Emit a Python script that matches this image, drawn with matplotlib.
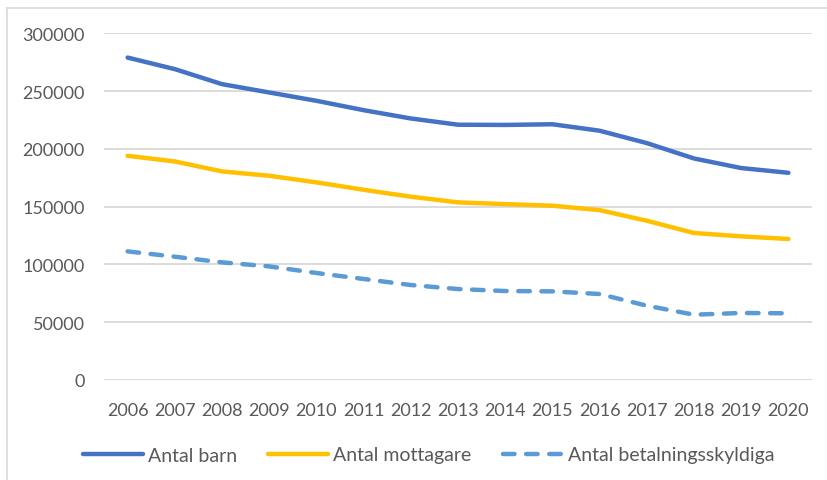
import matplotlib
matplotlib.use("Agg")
import matplotlib.pyplot as plt
from matplotlib.lines import Line2D

years = [2006, 2007, 2008, 2009, 2010, 2011, 2012, 2013, 2014, 2015, 2016, 2017, 2018, 2019, 2020]
antal_barn = [279000, 269000, 256000, 248800, 241600, 233500, 226300, 220900, 220700, 221300, 215700, 205000, 191700, 183400, 179300]
antal_mottagare = [194000, 189100, 180500, 176700, 171000, 164600, 158600, 153700, 152200, 150800, 147000, 137800, 127200, 124300, 122000]
antal_betalningsskyldiga = [111300, 106700, 101800, 98300, 92600, 87400, 82200, 78700, 77000, 76700, 74400, 64300, 56500, 58000, 57700]

labels = ["Antal barn", "Antal mottagare", "Antal betalningsskyldiga"]
colors = ["#4472C4", "#FFC000", "#5B9BD5"]
text_color = "#595959"

plt.rcParams['font.family'] = ['Lato', 'DejaVu Sans']

fig = plt.figure(figsize=(8.27, 4.81), dpi=100)
ax = fig.add_axes([104 / 827, 1 - 381 / 481, (812 - 104) / 827, (381 - 34.3) / 481])

lw = 3.2
ax.plot(years, antal_barn, color=colors[0], lw=lw, solid_capstyle='round', solid_joinstyle='round')
ax.plot(years, antal_mottagare, color=colors[1], lw=lw, solid_capstyle='round', solid_joinstyle='round')
ax.plot(years, antal_betalningsskyldiga, color=colors[2], lw=lw, linestyle=(0, (2.6, 2.6)),
        dash_capstyle='round', dash_joinstyle='round')

ax.set_xlim(2005.5, 2020.5)
ax.set_ylim(0, 300000)
ax.set_yticks(range(0, 300001, 50000))
ax.set_xticks(years)
ax.set_xticklabels([str(y) for y in years])
ax.grid(axis='y', color='#D9D9D9', lw=1.3)
ax.set_axisbelow(True)
for s in ax.spines.values():
    s.set_visible(False)
ax.tick_params(length=0, labelsize=13, colors=text_color)
ax.tick_params(axis='x', pad=16)
ax.tick_params(axis='y', pad=14)

handles = [Line2D([], [], color=colors[0], lw=lw, solid_capstyle='round'),
           Line2D([], [], color=colors[1], lw=lw, solid_capstyle='round'),
           Line2D([], [], color=colors[2], lw=lw, linestyle=(0, (2.6, 2.6)), dash_capstyle='round')]
fig.legend(handles, labels, loc='center', bbox_to_anchor=(0.518, 1 - 456 / 481), ncol=3,
           frameon=False, fontsize=14, handlelength=3.1, handletextpad=0.25, columnspacing=1.6,
           labelcolor=text_color)

# chart frame
fig.add_artist(Line2D([7 / 827, 7 / 827], [0, 1 - 9 / 481], color='#D9D9D9', lw=1.2, transform=fig.transFigure))
fig.add_artist(Line2D([7 / 827, 1], [1 - 9 / 481, 1 - 9 / 481], color='#D9D9D9', lw=1.2, transform=fig.transFigure))

fig.savefig("out.png", dpi=100)
